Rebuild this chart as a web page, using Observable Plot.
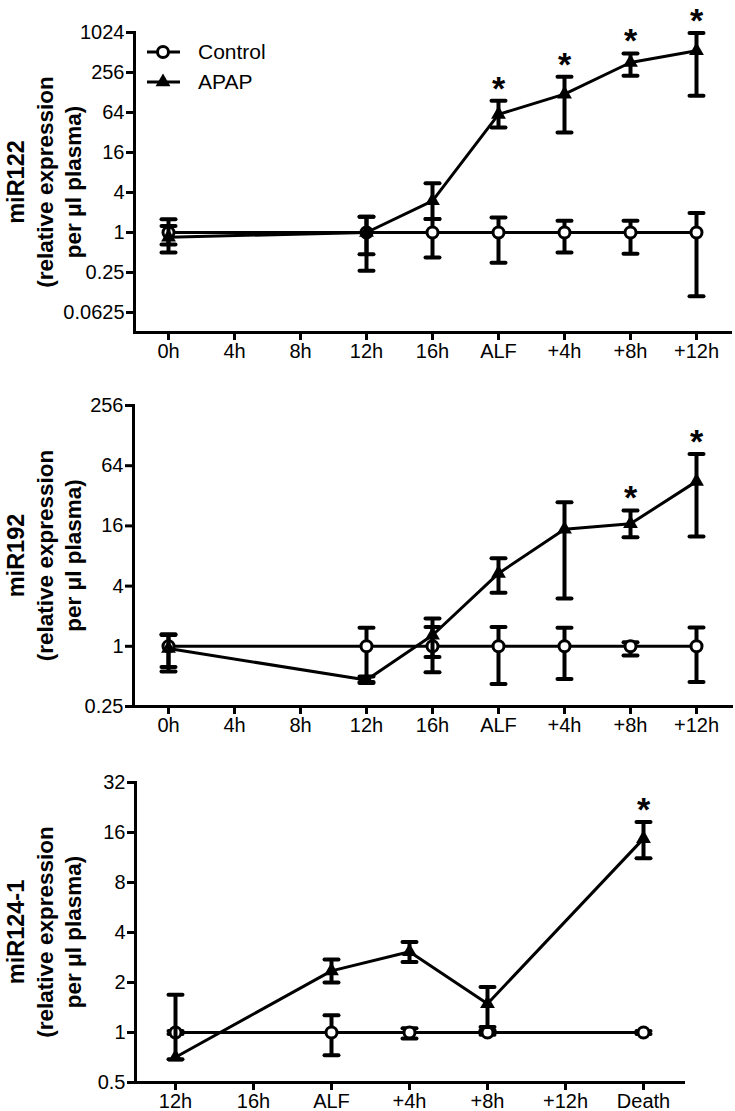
<!DOCTYPE html>
<html><head><meta charset="utf-8">
<script src="https://cdn.jsdelivr.net/npm/d3@7"></script>
<script src="https://cdn.jsdelivr.net/npm/@observablehq/plot@0.6"></script>
<style>
body{margin:0;background:#fff;}
#wrap{position:relative;width:735px;height:1111px;background:#fff;}
.panel{position:absolute;left:0;}
</style></head><body><div id="wrap"></div>
<script>
// ---------- data ----------
const timeAxisA = ["0h","4h","8h","12h","16h","ALF","+4h","+8h","+12h"];
const timeAxisB = ["12h","16h","ALF","+4h","+8h","+12h","Death"];

// miR122
const mir122Times = ["0h","12h","16h","ALF","+4h","+8h","+12h"];
const mir122Control   = [1, 1, 1, 1, 1, 1, 1];
const mir122ControlLo = [0.66, 0.47, 0.42, 0.35, 0.5, 0.48, 0.11];
const mir122ControlHi = [1.58, 1.72, 1.6, 1.68, 1.5, 1.5, 1.96];
const mir122Apap   = [0.85, 1.0, 3.0, 60, 121, 362, 543];
const mir122ApapLo = [0.5, 0.265, 1.6, 38, 32, 228, 114];
const mir122ApapHi = [1.25, 1.72, 5.5, 96, 220, 496, 1005];
const mir122Sig = ["ALF","+4h","+8h","+12h"];
const mir122Ticks = [0.0625, 0.25, 1, 4, 16, 64, 256, 1024];

// miR192
const mir192Times = ["0h","12h","16h","ALF","+4h","+8h","+12h"];
const mir192Control   = [1, 1, 1, 1, 1, 1, 1];
const mir192ControlLo = [0.56, 0.44, 0.55, 0.42, 0.47, 0.81, 0.44];
const mir192ControlHi = [1.32, 1.53, 1.56, 1.56, 1.53, 1.1, 1.54];
const mir192Apap   = [0.95, 0.46, 1.29, 5.36, 14.8, 16.8, 44.6];
const mir192ApapLo = [0.62, 0.43, 0.78, 3.43, 3.0, 12.3, 12.5];
const mir192ApapHi = [1.3, 0.5, 1.9, 7.6, 27.6, 22.8, 84];
const mir192Sig = ["+8h","+12h"];
const mir192Ticks = [0.25, 1, 4, 16, 64, 256];

// miR124-1
const mir124Times = ["12h","ALF","+4h","+8h","Death"];
const mir124Control   = [1, 1, 1, 1, 1];
const mir124ControlLo = [0.98, 0.73, 0.92, 0.97, 0.98];
const mir124ControlHi = [1.02, 1.27, 1.06, 1.03, 1.02];
const mir124Apap   = [0.71, 2.35, 3.06, 1.49, 14.7];
const mir124ApapLo = [0.69, 2.0, 2.66, 1.08, 11.2];
const mir124ApapHi = [1.69, 2.75, 3.51, 1.88, 18.5];
const mir124Sig = ["Death"];
const mir124Ticks = [0.5, 1, 2, 4, 8, 16, 32];

const seriesNames = ["Control", "APAP"];

// ---------- helpers ----------
const FONT = "'Liberation Sans', Arial, Helvetica, sans-serif";
const capSymbol = {draw(ctx) { ctx.moveTo(-7, 0); ctx.lineTo(7, 0); }};

function rows(times, mean, lo, hi, group) {
  return times.map((t, i) => ({time: t, mean: mean[i], lo: lo[i], hi: hi[i], group}));
}

function makePanel(cfg) {
  const ctrl = rows(cfg.times, cfg.control, cfg.controlLo, cfg.controlHi, seriesNames[0]);
  const apap = rows(cfg.times, cfg.apap, cfg.apapLo, cfg.apapHi, seriesNames[1]);
  const sig = apap.filter(d => cfg.sig.includes(d.time));
  const errMarks = (data) => [
    Plot.ruleX(data, {x: "time", y1: "lo", y2: "hi", stroke: "black", strokeWidth: 4}),
    Plot.dot(data, {x: "time", y: "hi", symbol: capSymbol, r: 7, fill: "none", stroke: "black", strokeWidth: 4, strokeLinecap: "round"}),
    Plot.dot(data, {x: "time", y: "lo", symbol: capSymbol, r: 7, fill: "none", stroke: "black", strokeWidth: 4, strokeLinecap: "round"})
  ];
  const svg = Plot.plot({
    width: 735,
    height: cfg.height,
    marginLeft: cfg.marginLeft,
    marginRight: cfg.marginRight,
    marginTop: cfg.marginTop,
    marginBottom: cfg.marginBottom,
    style: {fontFamily: FONT, fontSize: "20px", color: "black", background: "white", overflow: "visible"},
    x: {type: "point", domain: cfg.axis, padding: 0.48, label: null},
    y: {type: "log", base: 2, domain: cfg.yDomain, label: null},
    marks: [
      Plot.axisX({tickSize: 8, tickPadding: 3, strokeWidth: 3, fontSize: 20, label: null}),
      Plot.axisY({ticks: cfg.ticks, tickFormat: d => String(d), tickSize: 8, tickPadding: 2, strokeWidth: 3, fontSize: 20, label: null}),
      Plot.frame({anchor: "left", stroke: "black", strokeWidth: 3}),
      Plot.frame({anchor: "bottom", stroke: "black", strokeWidth: 3}),
      ...errMarks(ctrl),
      Plot.line(ctrl, {x: "time", y: "mean", stroke: "black", strokeWidth: 3}),
      Plot.dot(ctrl, {x: "time", y: "mean", r: 5.5, stroke: "black", fill: "white", strokeWidth: 3}),
      ...errMarks(apap),
      Plot.line(apap, {x: "time", y: "mean", stroke: "black", strokeWidth: 3}),
      Plot.dot(apap, {x: "time", y: "mean", symbol: "triangle", r: 5.5, fill: "black", stroke: "none"}),
      Plot.text(sig, {x: "time", y: "hi", text: () => "*", dy: -12, fontSize: 34, fontWeight: "bold", fill: "black"})
    ]
  });
  const sel = d3.select(svg);
  const cy = cfg.marginTop + (cfg.height - cfg.marginTop - cfg.marginBottom) / 2;
  const xs = [16, 45, 73];
  cfg.label.forEach((t, i) => {
    sel.append("text")
      .attr("transform", `translate(${xs[i]},${cy}) rotate(-90)`)
      .attr("text-anchor", "middle")
      .attr("dy", "0.36em")
      .attr("font-size", i === 0 ? 23.5 : 22.5)
      .attr("font-weight", "bold")
      .attr("font-family", FONT)
      .attr("fill", "black")
      .text(t);
  });
  const div = document.createElement("div");
  div.className = "panel";
  div.style.top = cfg.top + "px";
  div.appendChild(svg);
  document.getElementById("wrap").appendChild(div);
}

makePanel({
  top: 0, height: 370, marginLeft: 134, marginRight: 5, marginTop: 32, marginBottom: 38,
  axis: timeAxisA, yDomain: [1/32, 1024], ticks: mir122Ticks,
  times: mir122Times, control: mir122Control, controlLo: mir122ControlLo, controlHi: mir122ControlHi,
  apap: mir122Apap, apapLo: mir122ApapLo, apapHi: mir122ApapHi, sig: mir122Sig,
  label: ["miR122", "(relative expression", "per \u03bcl plasma)"]
});
makePanel({
  top: 370, height: 370, marginLeft: 133, marginRight: 4, marginTop: 35, marginBottom: 34,
  axis: timeAxisA, yDomain: [0.25, 256], ticks: mir192Ticks,
  times: mir192Times, control: mir192Control, controlLo: mir192ControlLo, controlHi: mir192ControlHi,
  apap: mir192Apap, apapLo: mir192ApapLo, apapHi: mir192ApapHi, sig: mir192Sig,
  label: ["miR192", "(relative expression", "per \u03bcl plasma)"]
});
makePanel({
  top: 740, height: 371, marginLeft: 135, marginRight: 52, marginTop: 42, marginBottom: 29,
  axis: timeAxisB, yDomain: [0.5, 32], ticks: mir124Ticks,
  times: mir124Times, control: mir124Control, controlLo: mir124ControlLo, controlHi: mir124ControlHi,
  apap: mir124Apap, apapLo: mir124ApapLo, apapHi: mir124ApapHi, sig: mir124Sig,
  label: ["miR124-1", "(relative expression", "per \u03bcl plasma)"]
});

// ---------- legend (inside top panel) ----------
const leg = d3.select("#wrap").append("svg")
  .attr("width", 140).attr("height", 60)
  .style("position", "absolute").style("left", "140px").style("top", "37px");
const legY = [15, 45];
seriesNames.forEach((name, i) => {
  leg.append("line").attr("x1", 7).attr("x2", 40).attr("y1", legY[i]).attr("y2", legY[i])
    .attr("stroke", "black").attr("stroke-width", 3);
  if (i === 0) {
    leg.append("circle").attr("cx", 23).attr("cy", legY[i]).attr("r", 5.5)
      .attr("fill", "white").attr("stroke", "black").attr("stroke-width", 3);
  } else {
    leg.append("path").attr("transform", `translate(23,${legY[i]})`)
      .attr("d", d3.symbol(d3.symbolTriangle, 5.5 * 5.5 * Math.PI)()).attr("fill", "black");
  }
  leg.append("text").attr("x", 58).attr("y", legY[i]).attr("dy", "0.35em")
    .attr("font-size", 21).attr("font-family", FONT).attr("fill", "black").text(name);
});
</script></body></html>
